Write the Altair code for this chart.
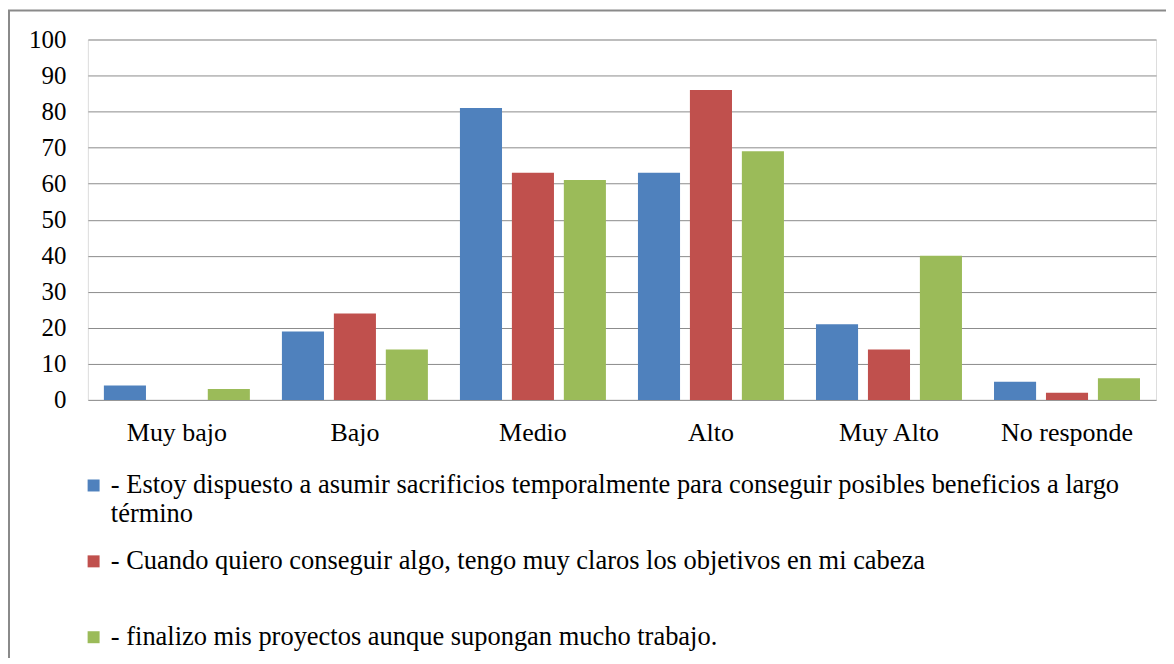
import altair as alt
import pandas as pd

categories = ["Muy bajo", "Bajo", "Medio", "Alto", "Muy Alto", "No responde"]
series = [
    "- Estoy dispuesto a asumir sacrificios temporalmente para conseguir posibles beneficios a largo\ntérmino",
    "- Cuando quiero conseguir algo, tengo muy claros los objetivos en mi cabeza",
    "- finalizo mis proyectos aunque supongan mucho trabajo.",
]
values_s1 = [4, 19, 81, 63, 21, 5]
values_s2 = [0, 24, 63, 86, 14, 2]
values_s3 = [3, 14, 61, 69, 40, 6]
colors = ["#4F81BD", "#C0504D", "#9BBB59"]

rows = []
for s, vals in zip(series, [values_s1, values_s2, values_s3]):
    for c, v in zip(categories, vals):
        rows.append({"cat": c, "serie": s, "valor": v})
df = pd.DataFrame(rows)

FONT = "Liberation Serif, DejaVu Serif, serif"

bars = alt.Chart(df).mark_bar().encode(
    x=alt.X("cat:N", sort=categories, title=None,
            scale=alt.Scale(paddingInner=0.18, paddingOuter=0.09),
            axis=alt.Axis(labelAngle=0, ticks=False, domain=False, labelPadding=20,
                          labelFontSize=26, labelFont=FONT, labelColor="black")),
    xOffset=alt.XOffset("serie:N", sort=series,
                        scale=alt.Scale(paddingInner=0.19, paddingOuter=0)),
    y=alt.Y("valor:Q", title=None,
            scale=alt.Scale(domain=[0, 100], nice=False),
            axis=alt.Axis(values=list(range(0, 101, 10)), ticks=False, domain=False,
                          labelPadding=22, labelFontSize=25, labelFont=FONT,
                          labelColor="black", gridColor="#8c8c8c", gridWidth=1,
                          gridOpacity=1)),
    color=alt.Color("serie:N", sort=series,
                    scale=alt.Scale(domain=series, range=colors),
                    legend=alt.Legend(orient="none", legendX=-7.5, legendY=433.5,
                                      direction="vertical", columns=1, title=None,
                                      symbolType="square", symbolSize=144,
                                      symbolStrokeWidth=0, labelFontSize=26.5,
                                      labelFont=FONT, labelColor="black",
                                      labelLimit=1100, labelOffset=4,
                                      labelExpr="split(datum.label, '\\n')",
                                      gridAlign="all", rowPadding=20)),
)

frame = alt.Chart(pd.DataFrame({"f": [0]})).mark_rect(
    fill="transparent", stroke="#8a8a8a", strokeWidth=2
).encode(
    x=alt.value(-79), x2=alt.value(1300), y=alt.value(-29), y2=alt.value(900)
)

chart = alt.layer(frame, bars).properties(
    width=1070, height=361,
    autosize=alt.AutoSizeParams(type="none"),
    padding={"left": 80, "top": 31, "right": 10, "bottom": 258},
).configure_view(stroke=None).configure(font=FONT, background="white")

chart.save("out.html", embed_options={"renderer": "svg", "actions": False})
